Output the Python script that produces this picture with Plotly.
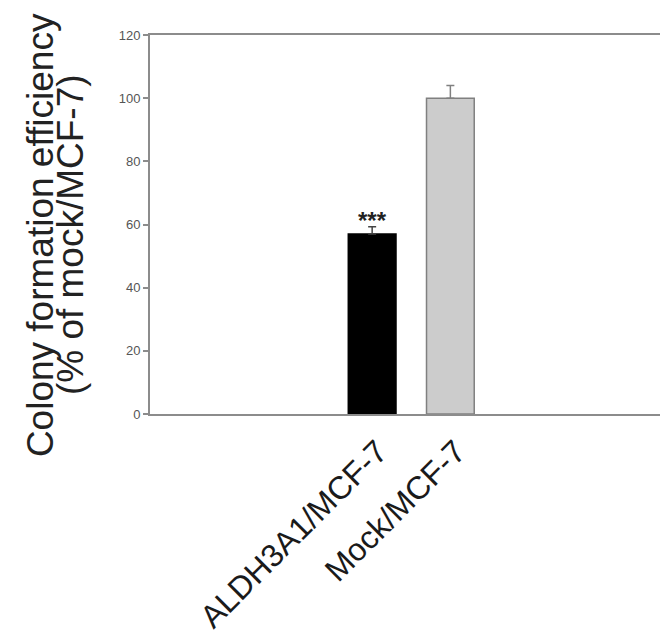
import plotly.graph_objects as go

categories = ["ALDH3A1/MCF-7", "Mock/MCF-7"]
values = [57, 100]
errors = [2.3, 4.0]
bar_colors = ["#000000", "#cccccc"]
line_colors = ["#000000", "#808080"]
y_ticks = [0, 20, 40, 60, 80, 100, 120]
significance = ["***", ""]

FONT = "Liberation Sans, Arial, sans-serif"

fig = go.Figure()
for i, cat in enumerate(categories):
    fig.add_trace(go.Bar(
        x=[i], y=[values[i]], width=0.61,
        marker=dict(color=bar_colors[i], line=dict(color=line_colors[i], width=1.5)),
        error_y=dict(type="data", array=[errors[i]], arrayminus=[0], symmetric=False,
                     color=line_colors[i] if i else "#444444", thickness=1.5, width=4),
        showlegend=False,
    ))
    if significance[i]:
        fig.add_annotation(x=i, y=values[i] + errors[i], text="<b>" + significance[i] + "</b>",
                           showarrow=False, yanchor="bottom", yshift=-9,
                           font=dict(family=FONT, size=24, color="#222222"))

fig.add_annotation(xref="paper", yref="paper", x=0, y=0.472, xanchor="center", yanchor="middle",
                   xshift=-110, text="Colony formation efficiency", textangle=-90, showarrow=False,
                   font=dict(family=FONT, size=37, color="#222222"))
fig.add_annotation(xref="paper", yref="paper", x=0, y=0.472, xanchor="center", yanchor="middle",
                   xshift=-80, text="(% of mock/MCF-7)", textangle=-90, showarrow=False,
                   font=dict(family=FONT, size=37, color="#222222"))

fig.update_layout(
    width=660, height=642,
    margin=dict(l=150, r=0, t=35, b=228),
    paper_bgcolor="white", plot_bgcolor="white",
    xaxis=dict(
        range=[-2.84, 3.68], tickmode="array", tickvals=[0, 1], ticktext=categories,
        tickangle=-45, tickfont=dict(family=FONT, size=32, color="#1a1a1a"),
        ticklabelshift=6, ticklabelstandoff=4,
        showline=True, linecolor="#8c8c8c", linewidth=2, mirror=True,
        showgrid=False, zeroline=False, ticks="",
    ),
    yaxis=dict(
        range=[0, 120], tickmode="array", tickvals=y_ticks,
        tickfont=dict(family=FONT, size=13, color="#555555"),
        showline=True, linecolor="#8c8c8c", linewidth=2, mirror=False,
        ticks="outside", ticklen=5, tickcolor="#8c8c8c", tickwidth=1.5,
        showgrid=False, zeroline=False,
    ),
)

fig.write_html("out.html")
